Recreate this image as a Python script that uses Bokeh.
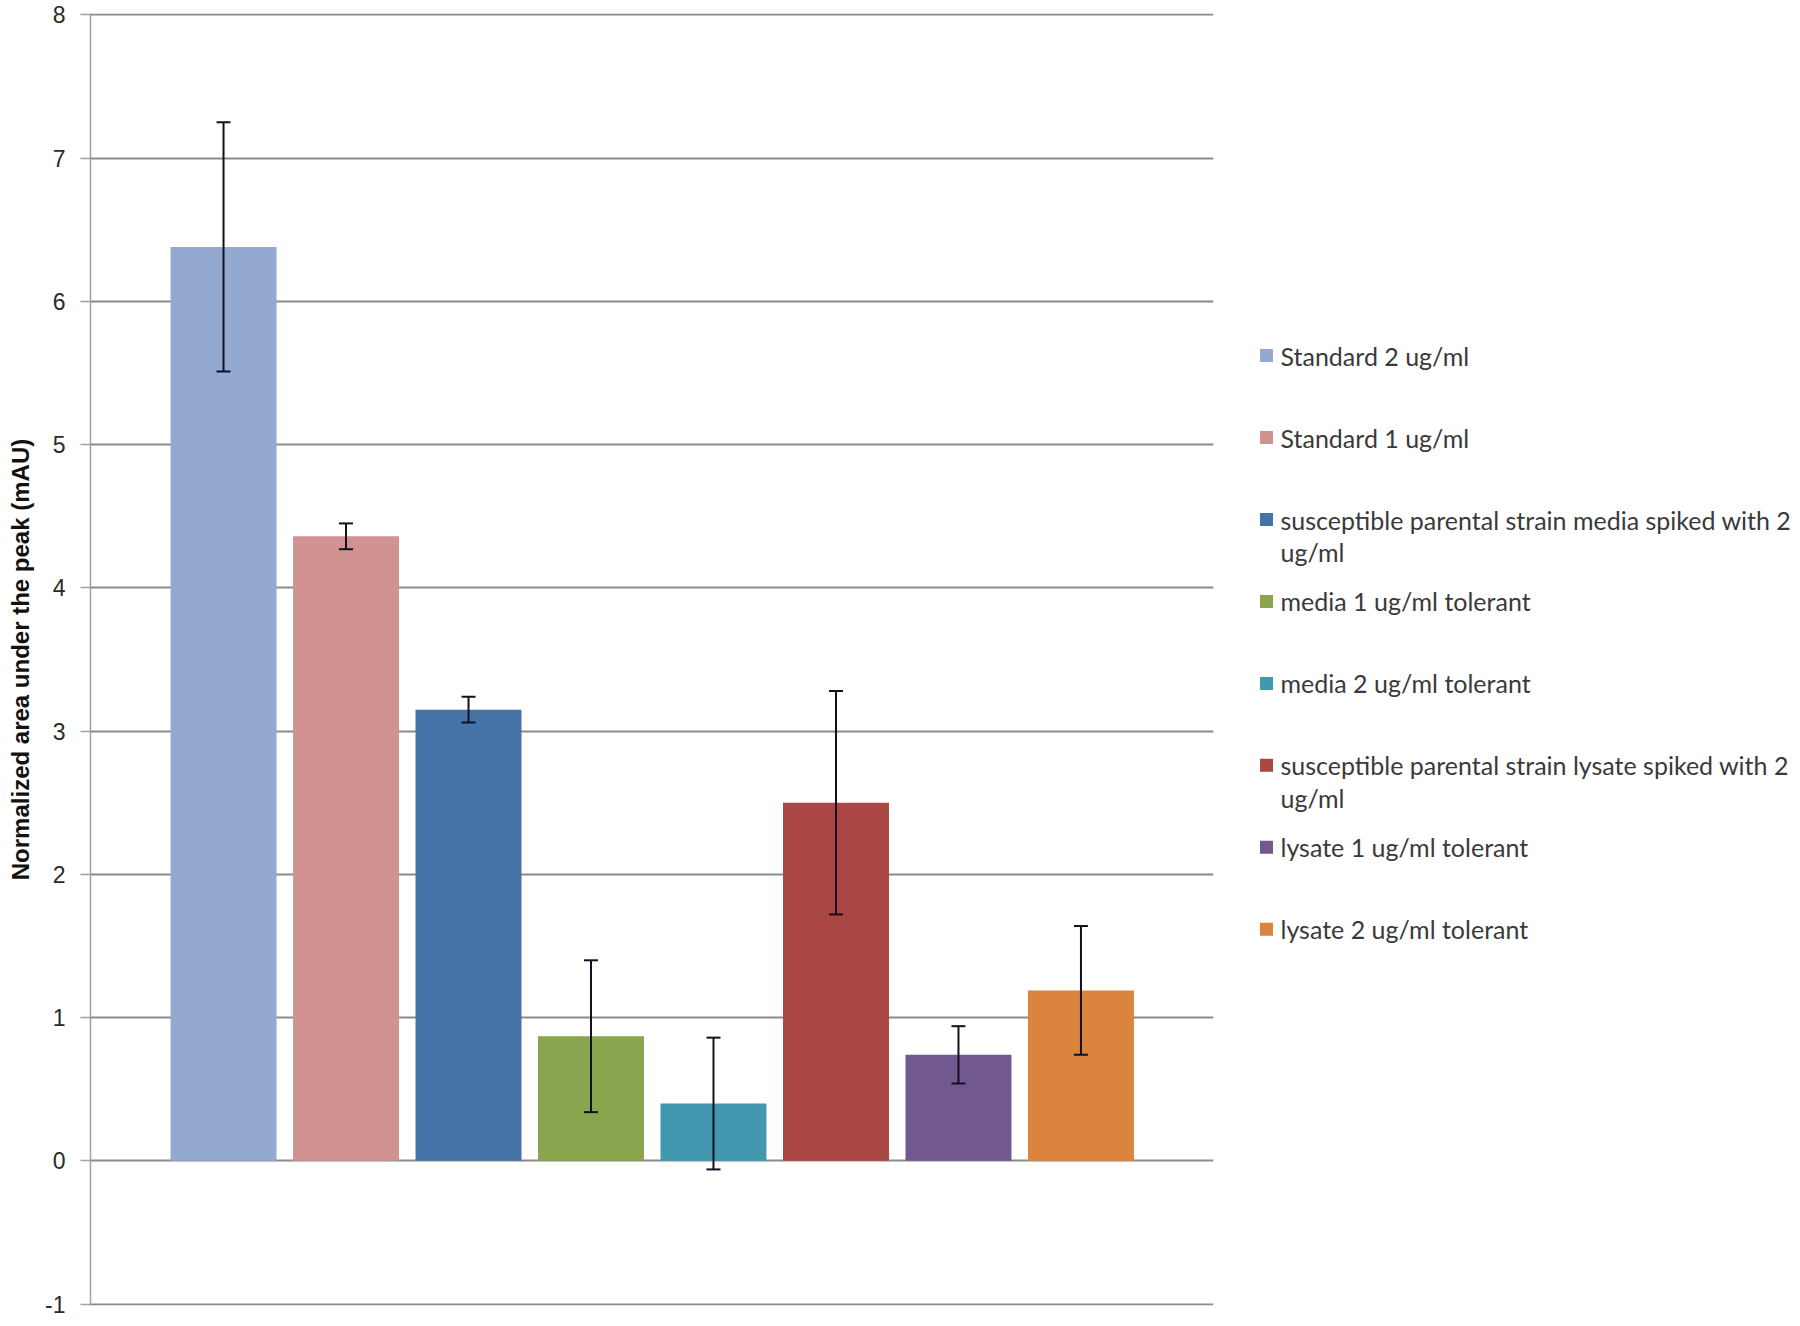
from bokeh.plotting import figure
from bokeh.models import ColumnDataSource, Range1d, FixedTicker, Whisker, TeeHead
from bokeh.layouts import row
from bokeh.embed import file_html
from bokeh.resources import INLINE
from bokeh.core.properties import value

# ---------------- data ----------------
series = [
    "Standard 2 ug/ml",
    "Standard 1 ug/ml",
    "susceptible parental strain media spiked with 2\nug/ml",
    "media 1 ug/ml tolerant",
    "media 2 ug/ml tolerant",
    "susceptible parental strain lysate spiked with 2\nug/ml",
    "lysate 1 ug/ml tolerant",
    "lysate 2 ug/ml tolerant",
]
means = [6.38, 4.36, 3.15, 0.87, 0.40, 2.50, 0.74, 1.19]
errors = [0.87, 0.09, 0.09, 0.53, 0.46, 0.78, 0.20, 0.45]
colors = ["#93A9CF", "#D19392", "#4572A7", "#89A54E",
          "#4198AF", "#AA4643", "#71588F", "#DB843D"]
y_ticks = [-1, 0, 1, 2, 3, 4, 5, 6, 7, 8]
y_tick_labels = {t: str(t) for t in y_ticks}
y_title = "Normalized area under the peak (mAU)"

# ---------------- main chart ----------------
xs = list(range(len(means)))
src = ColumnDataSource(dict(
    x=xs, top=means, color=colors,
    upper=[m + e for m, e in zip(means, errors)],
    lower=[m - e for m, e in zip(means, errors)],
))

H = 1318
p = figure(width=1223, height=H, output_backend="svg", toolbar_location=None,
           x_range=Range1d(-1.086, 8.082), y_range=Range1d(-1.01, 8.01),
           min_border_left=90, min_border_right=10, min_border_top=13,
           min_border_bottom=13, outline_line_color=None,
           background_fill_color="white", border_fill_color="white")

p.vbar(x="x", top="top", bottom=0, width=0.865, color="color",
       line_color=None, source=src)

wh = Whisker(source=src, base="x", upper="upper", lower="lower",
             line_color="#111122", line_width=2, level="overlay",
             upper_head=TeeHead(size=14, line_color="#111122", line_width=2),
             lower_head=TeeHead(size=14, line_color="#111122", line_width=2))
p.add_layout(wh)

p.xaxis.visible = False
p.xgrid.visible = False
p.ygrid.ticker = FixedTicker(ticks=y_ticks)
p.ygrid.grid_line_color = "#8a8a8a"
p.ygrid.grid_line_width = 1.8

ax = p.yaxis[0]
ax.ticker = FixedTicker(ticks=y_ticks)
ax.major_label_overrides = y_tick_labels
ax.axis_line_color = "#a0a0a0"
ax.axis_line_width = 1.5
ax.major_tick_line_color = "#a0a0a0"
ax.major_tick_line_width = 1.5
ax.major_tick_out = 10
ax.major_tick_in = 0
ax.minor_tick_line_color = None
ax.major_label_standoff = 15
ax.major_label_text_font = "Liberation Sans"
ax.major_label_text_font_size = "23px"
ax.major_label_text_color = "#2a2a2a"
ax.axis_label = y_title
ax.axis_label_text_font = "Liberation Sans"
ax.axis_label_text_font_style = "bold"
ax.axis_label_text_font_size = "24px"
ax.axis_label_text_color = "#111111"
ax.axis_label_standoff = 8

# ---------------- legend panel ----------------
LW = 569
q = figure(width=LW, height=H, output_backend="svg", toolbar_location=None,
           x_range=Range1d(0, LW), y_range=Range1d(H, 0),
           min_border=0, outline_line_color=None,
           background_fill_color="white", border_fill_color="white")
q.axis.visible = False
q.grid.visible = False

y0, step, line_gap = 349, 83.6, 33
sq_x, txt_x = 43, 57
ly = [y0 + step * i for i in range(len(series))]
q.scatter(x=[sq_x] * len(series), y=ly, marker="square", size=13,
          color=colors, line_color=None)

tx, ty, tt = [], [], []
for i, lab in enumerate(series):
    for j, part in enumerate(lab.split("\n")):
        tx.append(txt_x)
        ty.append(ly[i] + j * line_gap)
        tt.append(part)
q.text(x=tx, y=ty, text=tt, text_font=value("Lato"), text_font_size="25px",
       text_baseline="middle", text_align="left", text_color="#3a3a3a")

layout = row(p, q)
open("out.html", "w").write(file_html(layout, INLINE))
